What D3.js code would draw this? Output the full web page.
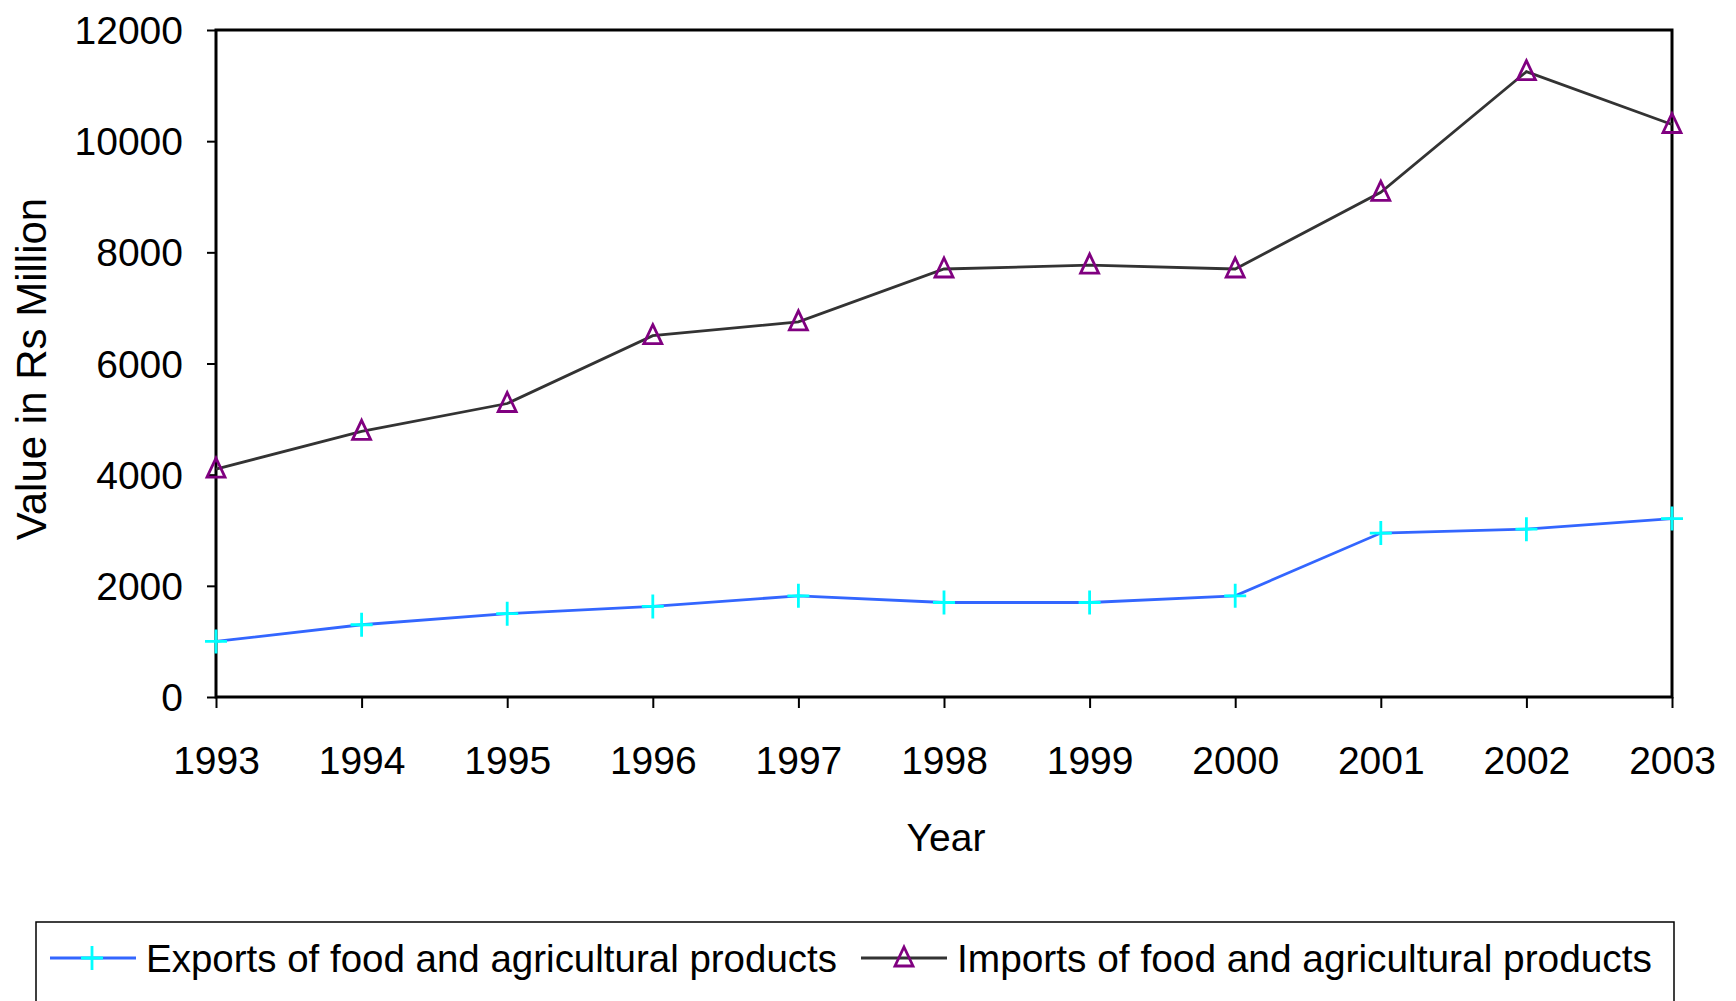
<!DOCTYPE html><html><head><script src="https://cdn.jsdelivr.net/npm/d3@7"></script>
<style>body{margin:0;background:#fff}text{font-family:"Liberation Sans",Arial,sans-serif}</style></head><body>
<svg id="c" width="1736" height="1001"></svg>
<script>
const years=["1993","1994","1995","1996","1997","1998","1999","2000","2001","2002","2003"];
const exportsV=[1000,1300,1500,1630,1820,1700,1700,1820,2950,3020,3210];
const importsV=[4100,4780,5280,6500,6750,7700,7770,7700,9080,11250,10300];
const yTicks=[0,2000,4000,6000,8000,10000,12000];
const svg=d3.select("#c");
const L=216,R=1672,T=30,B=697,FS=39;
const x=d3.scalePoint().domain(years).range([L,R]);
const y=d3.scaleLinear().domain([0,12000]).range([B,T]);
svg.append("rect").attr("x",L).attr("y",T).attr("width",R-L).attr("height",B-T).attr("fill","none").attr("stroke","#000").attr("stroke-width",3);
const ya=svg.append("g").attr("transform",`translate(${L},0)`).call(d3.axisLeft(y).tickValues(yTicks).tickSize(9).tickFormat(d3.format("d")));
ya.select(".domain").remove();
ya.selectAll("line").attr("stroke-width",2);
ya.selectAll("text").attr("font-size",FS).attr("fill","#000").attr("x",-33).attr("dy","0.35em");
const xa=svg.append("g").attr("transform",`translate(0,${B})`).call(d3.axisBottom(x).tickSize(11));
xa.select(".domain").remove();
xa.selectAll("line").attr("stroke-width",2);
xa.selectAll("text").attr("font-size",FS).attr("fill","#000").attr("y",63).attr("dy","0.35em");
svg.append("text").attr("x",946).attr("y",837).attr("dy","0.35em").attr("text-anchor","middle").attr("font-size",FS).text("Year");
svg.append("text").attr("transform","translate(46,369) rotate(-90)").attr("text-anchor","middle").attr("font-size",42).text("Value in Rs Million");
const line=d3.line().x((d,i)=>x(years[i])).y(d=>y(d));
svg.append("path").datum(exportsV).attr("d",line).attr("fill","none").attr("stroke","#3366ff").attr("stroke-width",2.8);
svg.append("path").datum(importsV).attr("d",line).attr("fill","none").attr("stroke","#333").attr("stroke-width",2.8);
function plus(g,cx,cy){g.append("path").attr("d",`M${cx-11},${cy}H${cx+11}M${cx},${cy-12}V${cy+12}`).attr("stroke","#00ffff").attr("stroke-width",2.8);}
function tri(g,cx,cy){g.append("path").attr("d",`M${cx},${cy-11}L${cx+9},${cy+8}L${cx-9},${cy+8}Z`).attr("fill","none").attr("stroke","#800080").attr("stroke-width",2.8);}
const m=svg.append("g");
exportsV.forEach((v,i)=>plus(m,x(years[i]),y(v)));
importsV.forEach((v,i)=>tri(m,x(years[i]),y(v)));
svg.append("rect").attr("x",36).attr("y",922).attr("width",1638).attr("height",100).attr("fill","none").attr("stroke","#000").attr("stroke-width",1.5);
svg.append("line").attr("x1",50).attr("x2",136).attr("y1",958).attr("y2",958).attr("stroke","#3366ff").attr("stroke-width",2.8);
plus(svg,92,958);
svg.append("text").attr("x",146).attr("y",958).attr("dy","0.35em").attr("font-size",FS).attr("textLength",691).attr("lengthAdjust","spacingAndGlyphs").text("Exports of food and agricultural products");
svg.append("line").attr("x1",861).attr("x2",947).attr("y1",958).attr("y2",958).attr("stroke","#333").attr("stroke-width",2.8);
tri(svg,904,958);
svg.append("text").attr("x",957).attr("y",958).attr("dy","0.35em").attr("font-size",FS).attr("textLength",695).attr("lengthAdjust","spacingAndGlyphs").text("Imports of food and agricultural products");
</script></body></html>
